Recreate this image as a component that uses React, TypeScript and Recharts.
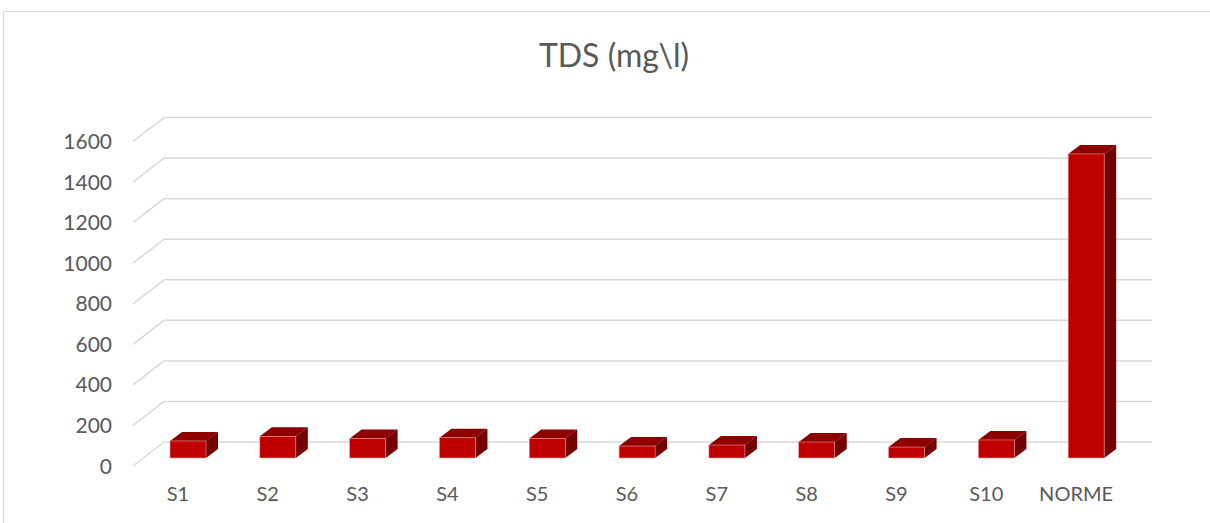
import React from "react";
import { Bar, BarChart, CartesianGrid, XAxis, YAxis } from "recharts";

// sampling points and the regulatory limit
const categories = ["S1", "S2", "S3", "S4", "S5", "S6", "S7", "S8", "S9", "S10", "NORME"];
const tdsValues = [84, 107, 96, 100, 96, 59, 64, 79, 54, 89, 1500];
const yTicks = [0, 200, 400, 600, 800, 1000, 1200, 1400, 1600];

const data = categories.map((name, i) => ({ name, tds: tdsValues[i] }));

const FONT = "Lato, 'Open Sans', sans-serif";
const TEXT = "#595959";
const GRID = "#d9d9d9";

// fake 3D: bar depth and the wall/floor offsets around the bar plane
const DEPTH_X = 12;
const DEPTH_Y = 9;
const BACK_X = 21;
const BACK_Y = 16;
const FRONT_X = -10;
const FRONT_Y = 8;

const Box = (props: any) => {
  const { x, y, width, height } = props;
  if (!height || height <= 0) return null;
  const r = x + width;
  const b = y + height;
  return (
    <g>
      <polygon
        points={`${x},${y} ${x + DEPTH_X},${y - DEPTH_Y} ${r + DEPTH_X},${y - DEPTH_Y} ${r},${y}`}
        fill="#8e0000"
      />
      <polygon
        points={`${r},${y} ${r + DEPTH_X},${y - DEPTH_Y} ${r + DEPTH_X},${b - DEPTH_Y} ${r},${b}`}
        fill="#730000"
      />
      <rect x={x} y={y} width={width} height={height} fill="#c00000" stroke="#e49a9a" strokeWidth={0.6} />
    </g>
  );
};

const gridLine = (props: any) => {
  const { x1, x2, y1, index } = props;
  return (
    <g key={`grid-${index}`}>
      <line x1={x1 + FRONT_X} y1={y1 + FRONT_Y} x2={x1 + BACK_X} y2={y1 - BACK_Y} stroke={GRID} strokeWidth={1.5} />
      <line x1={x1 + BACK_X} y1={y1 - BACK_Y} x2={x2 + BACK_X} y2={y1 - BACK_Y} stroke={GRID} strokeWidth={1.5} />
    </g>
  );
};

const YTick = (props: any) => {
  const { y, payload } = props;
  return (
    <text x={112} y={y + FRONT_Y} dy="0.36em" textAnchor="end" fill={TEXT} fontSize={21} fontFamily={FONT}>
      {payload.value}
    </text>
  );
};

const XTick = (props: any) => {
  const { x, payload } = props;
  return (
    <text x={x - 10} y={501} textAnchor="middle" fill={TEXT} fontSize={20} fontFamily={FONT}>
      {payload.value}
    </text>
  );
};

export default function App() {
  return (
    <div style={{ position: "absolute", left: 0, top: 0, width: 1210, height: 523, background: "#fff" }}>
      <svg width={1210} height={523} style={{ position: "absolute", left: 0, top: 0 }}>
        <rect x={3.5} y={11.5} width={1300} height={600} fill="none" stroke={GRID} strokeWidth={1} />
        <text x={614} y={67} textAnchor="middle" fill={TEXT} fontSize={32} fontFamily={FONT}>
          TDS (mg\l)
        </text>
      </svg>
      <BarChart
        width={1210}
        height={523}
        data={data}
        margin={{ top: 133.6, right: 79, bottom: 35, left: 83 }}
        style={{ position: "absolute", left: 0, top: 0 }}
      >
        <CartesianGrid vertical={false} horizontal={gridLine} />
        <XAxis dataKey="name" height={30} axisLine={false} tickLine={false} tick={<XTick />} interval={0} />
        <YAxis
          width={60}
          domain={[0, 1600]}
          ticks={yTicks}
          axisLine={false}
          tickLine={false}
          tick={<YTick />}
          interval={0}
        />
        <Bar dataKey="tds" barSize={36} shape={<Box />} isAnimationActive={false} />
      </BarChart>
    </div>
  );
}
